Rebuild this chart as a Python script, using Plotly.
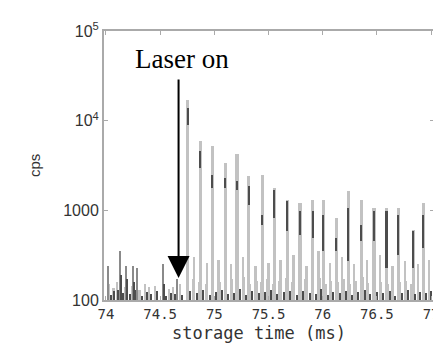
import plotly.graph_objects as go

# ---- data ----
peak_t = [74.755, 74.873, 74.982, 75.100, 75.209, 75.318, 75.445, 75.555, 75.673, 75.791,
          75.909, 76.009, 76.127, 76.236, 76.355, 76.473, 76.591, 76.700, 76.836, 76.927]
peak_top = [17000, 6000, 5200, 3400, 4200, 2400, 2500, 1770, 1300, 1200,
            1300, 1300, 820, 1640, 1300, 1060, 1060, 1060, 600, 1200]
dark_hi = [13800, 4600, 2470, 2300, 2130, 1870, 890, 1680, 1270, 980,
           980, 890, 490, 1060, 690, 980, 980, 890, 590, 890]
dark_lo = [8900, 2970, 1770, 1770, 1680, 1150, 690, 820, 590, 530,
           490, 350, 350, 270, 460, 460, 230, 320, 230, 380]

mid_t = [74.81, 74.93, 75.04, 75.155, 75.265, 75.38, 75.50, 75.61, 75.73, 75.85,
         75.96, 76.07, 76.18, 76.29, 76.41, 76.53, 76.645, 76.76, 76.88, 76.98]
mid_h = [300, 260, 280, 250, 300, 240, 260, 280, 320, 240,
         350, 260, 300, 250, 280, 320, 240, 270, 250, 280]

pre_t = [74.02, 74.13, 74.19, 74.25, 74.29, 74.53, 74.66]
pre_h = [240, 350, 240, 240, 230, 250, 170]
pre_dark_t = [74.135, 74.195, 74.255, 74.535]
pre_dark_h = [190, 170, 160, 150]

noise_t = [74.05, 74.08, 74.11, 74.16, 74.22, 74.27, 74.33, 74.38, 74.42, 74.47,
           74.56, 74.60, 74.64, 74.70, 74.78, 74.84, 74.90, 74.96, 75.02, 75.07,
           75.13, 75.18, 75.24, 75.29, 75.35, 75.41, 75.47, 75.52, 75.58, 75.64,
           75.70, 75.76, 75.82, 75.88, 75.94, 75.99, 76.05, 76.10, 76.16, 76.22,
           76.27, 76.33, 76.39, 76.44, 76.50, 76.56, 76.62, 76.67, 76.73, 76.79,
           76.85, 76.90, 76.95, 77.00]
noise_h = [115, 125, 130, 120, 118, 128, 112, 122, 116, 125,
           110, 120, 118, 113, 126, 119, 130, 115, 124, 128,
           117, 121, 132, 114, 126, 119, 123, 129, 116, 122,
           127, 113, 125, 120, 118, 131, 115, 124, 119, 127,
           114, 122, 128, 116, 123, 119, 126, 112, 121, 129,
           117, 124, 120, 126]

light_noise_t = [74.03, 74.07, 74.10, 74.18, 74.24, 74.31, 74.36, 74.40, 74.45, 74.58,
                 74.62, 74.68, 74.80, 74.86, 74.92, 74.99, 75.05, 75.11, 75.16, 75.22,
                 75.27, 75.33, 75.39, 75.43, 75.49, 75.54, 75.60, 75.66, 75.72, 75.78,
                 75.84, 75.90, 75.97, 76.03, 76.08, 76.14, 76.20, 76.25, 76.31, 76.37,
                 76.42, 76.48, 76.54, 76.60, 76.65, 76.71, 76.77, 76.82, 76.88, 76.93, 76.98]
light_noise_h = [150, 135, 160, 140, 145, 130, 150, 138, 142, 132,
                 140, 150, 170, 160, 150, 175, 160, 165, 170, 155,
                 180, 150, 165, 160, 170, 150, 165, 175, 160, 150,
                 170, 160, 175, 150, 165, 160, 170, 150, 165, 180,
                 155, 170, 160, 150, 175, 160, 165, 150, 170, 160, 155]

y_tickvals = [100, 1000, 10000, 100000]
y_ticktext = ["100", "1000", "10<sup>4</sup>", "10<sup>5</sup>"]
x_tickvals = [74, 74.5, 75, 75.5, 76, 76.5, 77]
x_ticktext = ["74", "74.5", "75", "75.5", "76", "76.5", "77"]

LIGHT = "#c2c2c2"
DARK = "#4d4d4d"

# plot area in pixels
L, R, T, B = 96, 431, 23, 292
W, H = R - L, B - T

fig = go.Figure()
fig.add_trace(go.Bar(x=light_noise_t, y=light_noise_h, width=0.02, marker=dict(color=LIGHT, line=dict(width=0))))
fig.add_trace(go.Bar(x=pre_t, y=pre_h, width=0.012, marker=dict(color="#8a8a8a", line=dict(width=0))))
fig.add_trace(go.Bar(x=mid_t, y=mid_h, width=0.022, marker=dict(color=LIGHT, line=dict(width=0))))
fig.add_trace(go.Bar(x=peak_t, y=peak_top, width=0.03, marker=dict(color=LIGHT, line=dict(width=0))))
fig.add_trace(go.Bar(x=peak_t, y=[h - l for h, l in zip(dark_hi, dark_lo)], base=dark_lo,
                     width=0.014, marker=dict(color=DARK, line=dict(width=0))))
fig.add_trace(go.Bar(x=pre_dark_t, y=pre_dark_h, width=0.01, marker=dict(color=DARK, line=dict(width=0))))
fig.add_trace(go.Bar(x=noise_t, y=noise_h, width=0.012, marker=dict(color=DARK, line=dict(width=0))))

fig.add_annotation(x=74.67, y=2.245, ax=74.67, ay=4.475, xref="x", yref="y", axref="x", ayref="y",
                   text="", showarrow=True, arrowhead=2, arrowsize=2.2, arrowwidth=2, arrowcolor="black")
fig.add_annotation(x=(175 - L) / W, y=(B - 51) / H, xref="paper", yref="paper", text="Laser on",
                   showarrow=False, xanchor="center", yanchor="middle",
                   font=dict(family="Liberation Serif", size=27, color="black"))
fig.add_annotation(x=(25 - L) / W, y=(B - 158) / H, xref="paper", yref="paper", text="cps",
                   showarrow=False, textangle=-90, xanchor="center", yanchor="middle",
                   font=dict(family="Liberation Sans", size=15, color="#333"))
fig.add_annotation(x=(253 - L) / W, y=(B - 325) / H, xref="paper", yref="paper",
                   text="storage time (ms)", showarrow=False, xanchor="center", yanchor="middle",
                   font=dict(family="DejaVu Sans Mono", size=17, color="#333"))

fig.update_layout(
    width=441, height=343, margin=dict(l=L, r=441 - R, t=T, b=343 - B),
    paper_bgcolor="white", plot_bgcolor="white", barmode="overlay", bargap=0,
    showlegend=False,
)
fig.update_xaxes(range=[73.982, 77.027], showline=True, mirror="ticks", linecolor="#aaaaaa", linewidth=2,
                 ticks="inside", ticklen=4, tickcolor="#aaaaaa", tickvals=x_tickvals, ticktext=x_ticktext,
                 showgrid=False, zeroline=False,
                 tickfont=dict(family="DejaVu Sans Mono", size=14, color="#333"))
fig.update_yaxes(type="log", range=[2, 5], showline=True, mirror="ticks", linecolor="#aaaaaa", linewidth=2,
                 ticks="inside", ticklen=4, tickcolor="#aaaaaa", tickvals=y_tickvals, ticktext=y_ticktext,
                 showgrid=False, zeroline=False,
                 tickfont=dict(family="Liberation Sans", size=16, color="#333"))

fig.write_html("out.html")
